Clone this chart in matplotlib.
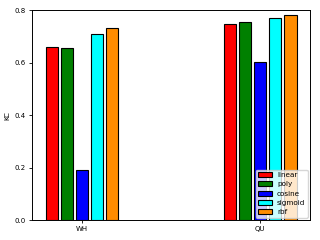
import matplotlib
matplotlib.use("Agg")
import matplotlib.pyplot as plt
import numpy as np

groups = ["WH", "QU"]
kernels = ["linear", "poly", "cosine", "sigmoid", "rbf"]
colors = ["red", "green", "blue", "cyan", "darkorange"]
kc = {
    "linear": [0.660, 0.746],
    "poly": [0.657, 0.753],
    "cosine": [0.189, 0.604],
    "sigmoid": [0.707, 0.769],
    "rbf": [0.733, 0.781],
}

fig = plt.figure(figsize=(3.2, 2.4), dpi=100)
ax = fig.add_axes([0.101, 0.083, 0.868, 0.875])

x = np.arange(len(groups))
step = 0.085
for i, k in enumerate(kernels):
    ax.bar(x + (i - 2) * step, kc[k], width=0.068, color=colors[i],
           edgecolor="black", linewidth=0.8, label=k)

ax.set_xticks(x)
ax.set_xticklabels(groups)
ax.set_yticks([0.0, 0.2, 0.4, 0.6, 0.8])
ax.tick_params(labelsize=5, length=2.5, width=0.6, pad=2)
for s in ax.spines.values():
    s.set_linewidth(0.7)
ax.set_ylabel("KC", fontsize=5)
ax.yaxis.set_label_coords(-0.078, 0.5)
ax.set_ylim(0, 0.8)
ax.set_xlim(-0.28, 1.28)
ax.legend(loc="lower right", fontsize=5.2, handlelength=1.9, labelspacing=0.45,
          borderpad=0.35, handletextpad=0.7, borderaxespad=0.3)

fig.savefig("out.png", dpi=100)
